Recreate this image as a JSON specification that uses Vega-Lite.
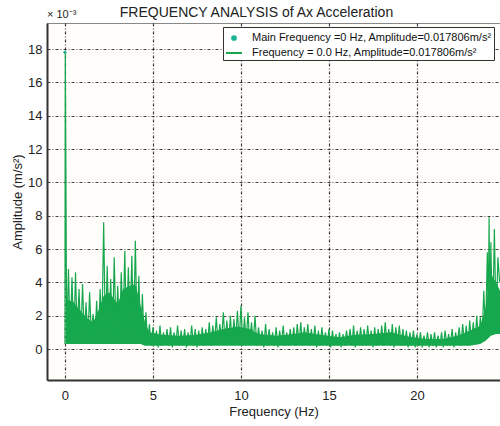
{
  "$schema": "https://vega.github.io/schema/vega-lite/v6.json",
  "width": 453,
  "height": 357,
  "autosize": {"type": "none"},
  "padding": {"left": 47, "top": 23, "right": 0, "bottom": 46},
  "background": "white",
  "config": {
    "font": "Liberation Sans",
    "view": {"fill": "#fffefa", "stroke": "#888", "strokeWidth": 1},
    "axis": {
      "grid": true,
      "gridColor": "#111",
      "gridDash": [3, 2, 1, 2],
      "gridWidth": 1.2,
      "gridOpacity": 0.8,
      "domainColor": "#333",
      "domainWidth": 2,
      "ticks": false,
      "labelFontSize": 13,
      "labelColor": "#222",
      "labelOverlap": false,
      "titleFontSize": 13,
      "titleFontWeight": "normal",
      "titleColor": "#222"
    }
  },
  "title": {
    "text": "FREQUENCY ANALYSIS of Ax Acceleration",
    "fontSize": 14,
    "fontWeight": "normal",
    "color": "#222",
    "dx": -17,
    "dy": 14,
    "offset": 3
  },
  "datasets": {
    "band": [
      {"f":0.05,"lo":0.3,"hi":3.0},{"f":0.5,"lo":0.3,"hi":2.8},{"f":0.8,"lo":0.3,"hi":2.4},{"f":1.2,"lo":0.3,"hi":1.9},{"f":1.6,"lo":0.3,"hi":1.6},{"f":1.9,"lo":0.3,"hi":2.3},
      {"f":2.2,"lo":0.3,"hi":3.2},{"f":2.5,"lo":0.3,"hi":3.4},{"f":2.8,"lo":0.3,"hi":3.0},{"f":3.0,"lo":0.3,"hi":2.7},{"f":3.3,"lo":0.3,"hi":3.6},{"f":3.7,"lo":0.3,"hi":3.8},
      {"f":4.0,"lo":0.3,"hi":3.9},{"f":4.3,"lo":0.3,"hi":2.6},{"f":4.55,"lo":0.2,"hi":1.6},{"f":4.8,"lo":0.2,"hi":1.0},{"f":5.5,"lo":0.2,"hi":0.85},{"f":6.5,"lo":0.2,"hi":0.8},
      {"f":7.5,"lo":0.2,"hi":0.85},{"f":8.3,"lo":0.2,"hi":1.0},{"f":9.0,"lo":0.2,"hi":1.2},{"f":9.8,"lo":0.2,"hi":1.35},{"f":10.5,"lo":0.2,"hi":1.2},{"f":11.0,"lo":0.2,"hi":0.9},
      {"f":12.0,"lo":0.2,"hi":0.8},{"f":13.0,"lo":0.2,"hi":0.9},{"f":13.6,"lo":0.2,"hi":1.0},{"f":14.5,"lo":0.2,"hi":0.85},{"f":15.6,"lo":0.2,"hi":0.7},{"f":16.5,"lo":0.2,"hi":0.85},
      {"f":17.5,"lo":0.2,"hi":0.9},{"f":18.5,"lo":0.2,"hi":1.0},{"f":19.5,"lo":0.2,"hi":0.75},{"f":20.5,"lo":0.2,"hi":0.6},{"f":21.5,"lo":0.2,"hi":0.6},{"f":22.3,"lo":0.2,"hi":0.8},
      {"f":23.0,"lo":0.2,"hi":1.1},{"f":23.6,"lo":0.3,"hi":1.4},{"f":23.9,"lo":0.5,"hi":2.5},{"f":24.2,"lo":0.8,"hi":4.5},{"f":24.5,"lo":0.9,"hi":4.0},{"f":24.72,"lo":0.9,"hi":3.5}
    ],
    "spec": [
      {"f":0.0,"a":0.3},{"f":0.02,"a":17.8},{"f":0.1,"a":0.4},{"f":0.2,"a":4.8},{"f":0.3,"a":0.6},{"f":0.4,"a":4.3},{"f":0.5,"a":0.3},{"f":0.6,"a":4.6},{"f":0.7,"a":0.8},{"f":0.8,"a":3.6},{"f":0.9,"a":0.5},
      {"f":1.0,"a":3.9},{"f":1.1,"a":0.7},{"f":1.2,"a":2.8},{"f":1.3,"a":0.3},{"f":1.4,"a":3.4},{"f":1.5,"a":0.9},{"f":1.6,"a":2.1},{"f":1.7,"a":0.4},{"f":1.8,"a":2.9},{"f":1.9,"a":0.6},
      {"f":2.0,"a":3.6},{"f":2.1,"a":1.0},{"f":2.2,"a":7.6},{"f":2.3,"a":0.5},{"f":2.4,"a":5.0},{"f":2.5,"a":1.2},{"f":2.6,"a":4.2},{"f":2.7,"a":0.4},{"f":2.8,"a":5.5},{"f":2.9,"a":0.9},
      {"f":3.0,"a":3.8},{"f":3.1,"a":0.6},{"f":3.2,"a":4.6},{"f":3.3,"a":1.1},{"f":3.4,"a":5.9},{"f":3.5,"a":0.5},{"f":3.6,"a":4.9},{"f":3.7,"a":1.3},{"f":3.8,"a":5.6},{"f":3.9,"a":0.7},
      {"f":4.0,"a":6.5},{"f":4.1,"a":0.9},{"f":4.2,"a":4.4},{"f":4.3,"a":0.5},{"f":4.4,"a":3.3},{"f":4.5,"a":0.4},{"f":4.6,"a":2.2},{"f":4.7,"a":0.3},{"f":4.8,"a":1.5},{"f":4.9,"a":0.2},
      {"f":5.0,"a":1.3},{"f":5.1,"a":0.3},{"f":5.2,"a":1.1},{"f":5.3,"a":0.1},{"f":5.4,"a":1.4},{"f":5.5,"a":0.2},{"f":5.6,"a":1.0},{"f":5.7,"a":0.3},{"f":5.8,"a":1.2},{"f":5.9,"a":0.2},
      {"f":6.0,"a":1.3},{"f":6.1,"a":0.1},{"f":6.2,"a":1.0},{"f":6.3,"a":0.3},{"f":6.4,"a":1.4},{"f":6.5,"a":0.2},{"f":6.6,"a":1.1},{"f":6.7,"a":0.2},{"f":6.8,"a":1.2},{"f":6.9,"a":0.1},
      {"f":7.0,"a":1.0},{"f":7.1,"a":0.3},{"f":7.2,"a":1.4},{"f":7.3,"a":0.2},{"f":7.4,"a":1.2},{"f":7.5,"a":0.1},{"f":7.6,"a":1.1},{"f":7.7,"a":0.3},{"f":7.8,"a":1.3},{"f":7.9,"a":0.2},
      {"f":8.0,"a":1.2},{"f":8.1,"a":0.3},{"f":8.2,"a":1.6},{"f":8.3,"a":0.2},{"f":8.4,"a":1.4},{"f":8.5,"a":0.4},{"f":8.6,"a":1.9},{"f":8.7,"a":0.3},{"f":8.8,"a":1.5},{"f":8.9,"a":0.5},
      {"f":9.0,"a":2.2},{"f":9.1,"a":0.3},{"f":9.2,"a":1.7},{"f":9.3,"a":0.4},{"f":9.4,"a":2.0},{"f":9.5,"a":0.3},{"f":9.6,"a":1.8},{"f":9.7,"a":0.5},{"f":9.8,"a":2.3},{"f":9.9,"a":0.4},
      {"f":10.0,"a":2.6},{"f":10.1,"a":0.3},{"f":10.2,"a":1.9},{"f":10.3,"a":0.5},{"f":10.4,"a":2.2},{"f":10.5,"a":0.3},{"f":10.6,"a":1.6},{"f":10.7,"a":0.4},{"f":10.8,"a":2.0},{"f":10.9,"a":0.2},
      {"f":11.0,"a":1.3},{"f":11.1,"a":0.3},{"f":11.2,"a":1.1},{"f":11.3,"a":0.1},{"f":11.4,"a":1.5},{"f":11.5,"a":0.2},{"f":11.6,"a":1.2},{"f":11.7,"a":0.3},{"f":11.8,"a":1.0},{"f":11.9,"a":0.2},
      {"f":12.0,"a":1.3},{"f":12.1,"a":0.1},{"f":12.2,"a":1.1},{"f":12.3,"a":0.3},{"f":12.4,"a":1.4},{"f":12.5,"a":0.2},{"f":12.6,"a":1.0},{"f":12.7,"a":0.2},{"f":12.8,"a":1.2},{"f":12.9,"a":0.3},
      {"f":13.0,"a":1.3},{"f":13.1,"a":0.2},{"f":13.2,"a":1.5},{"f":13.3,"a":0.3},{"f":13.4,"a":1.6},{"f":13.5,"a":0.2},{"f":13.6,"a":1.3},{"f":13.7,"a":0.4},{"f":13.8,"a":1.5},{"f":13.9,"a":0.2},
      {"f":14.0,"a":1.2},{"f":14.1,"a":0.3},{"f":14.2,"a":1.4},{"f":14.3,"a":0.1},{"f":14.4,"a":1.1},{"f":14.5,"a":0.2},{"f":14.6,"a":1.3},{"f":14.7,"a":0.3},{"f":14.8,"a":1.0},{"f":14.9,"a":0.2},
      {"f":15.0,"a":1.2},{"f":15.1,"a":0.1},{"f":15.2,"a":1.1},{"f":15.3,"a":0.2},{"f":15.4,"a":0.9},{"f":15.5,"a":0.2},{"f":15.6,"a":1.0},{"f":15.7,"a":0.1},{"f":15.8,"a":0.9},{"f":15.9,"a":0.2},
      {"f":16.0,"a":1.1},{"f":16.1,"a":0.3},{"f":16.2,"a":1.2},{"f":16.3,"a":0.2},{"f":16.4,"a":1.4},{"f":16.5,"a":0.1},{"f":16.6,"a":1.1},{"f":16.7,"a":0.3},{"f":16.8,"a":1.3},{"f":16.9,"a":0.2},
      {"f":17.0,"a":1.2},{"f":17.1,"a":0.2},{"f":17.2,"a":1.4},{"f":17.3,"a":0.3},{"f":17.4,"a":1.1},{"f":17.5,"a":0.1},{"f":17.6,"a":1.3},{"f":17.7,"a":0.2},{"f":17.8,"a":1.2},{"f":17.9,"a":0.3},
      {"f":18.0,"a":1.4},{"f":18.1,"a":0.2},{"f":18.2,"a":1.6},{"f":18.3,"a":0.3},{"f":18.4,"a":1.2},{"f":18.5,"a":0.2},{"f":18.6,"a":1.5},{"f":18.7,"a":0.1},{"f":18.8,"a":1.3},{"f":18.9,"a":0.3},
      {"f":19.0,"a":1.4},{"f":19.1,"a":0.2},{"f":19.2,"a":1.2},{"f":19.3,"a":0.2},{"f":19.4,"a":1.1},{"f":19.5,"a":0.1},{"f":19.6,"a":1.0},{"f":19.7,"a":0.2},{"f":19.8,"a":1.1},{"f":19.9,"a":0.1},
      {"f":20.0,"a":0.9},{"f":20.1,"a":0.2},{"f":20.2,"a":1.0},{"f":20.3,"a":0.1},{"f":20.4,"a":0.8},{"f":20.5,"a":0.2},{"f":20.6,"a":1.0},{"f":20.7,"a":0.1},{"f":20.8,"a":0.9},{"f":20.9,"a":0.2},
      {"f":21.0,"a":1.0},{"f":21.1,"a":0.1},{"f":21.2,"a":0.8},{"f":21.3,"a":0.2},{"f":21.4,"a":1.0},{"f":21.5,"a":0.1},{"f":21.6,"a":1.1},{"f":21.7,"a":0.2},{"f":21.8,"a":0.9},{"f":21.9,"a":0.2},
      {"f":22.0,"a":1.2},{"f":22.1,"a":0.1},{"f":22.2,"a":1.0},{"f":22.3,"a":0.3},{"f":22.4,"a":1.3},{"f":22.5,"a":0.2},{"f":22.6,"a":1.5},{"f":22.7,"a":0.3},{"f":22.8,"a":1.4},{"f":22.9,"a":0.2},
      {"f":23.0,"a":1.7},{"f":23.1,"a":0.3},{"f":23.2,"a":1.6},{"f":23.3,"a":0.4},{"f":23.4,"a":2.0},{"f":23.5,"a":0.3},{"f":23.6,"a":1.9},{"f":23.7,"a":0.6},{"f":23.8,"a":3.5},{"f":23.9,"a":0.8},
      {"f":24.0,"a":5.8},{"f":24.05,"a":1.5},{"f":24.1,"a":7.9},{"f":24.15,"a":1.2},{"f":24.2,"a":6.4},{"f":24.3,"a":1.0},{"f":24.4,"a":7.2},{"f":24.5,"a":1.4},{"f":24.6,"a":5.5},{"f":24.7,"a":4.0}
    ],
    "main": [{"f": 0.0, "a": 17.806}],
    "note": [{"label": "× 10⁻³"}]
  },
  "layer": [
    {
      "data": {"name": "band"},
      "mark": {"type": "area", "color": "#17a84e", "opacity": 1, "clip": true},
      "encoding": {
        "x": {
          "field": "f",
          "type": "quantitative",
          "scale": {"domain": [-1.02, 24.72], "nice": false, "zero": false},
          "axis": {"title": "Frequency (Hz)", "values": [0, 5, 10, 15, 20], "labelPadding": 9, "titlePadding": 3}
        },
        "y": {
          "field": "hi",
          "type": "quantitative",
          "scale": {"domain": [-1.86, 19.56], "nice": false, "zero": false},
          "axis": {"title": "Amplitude (m/s²)", "values": [0, 2, 4, 6, 8, 10, 12, 14, 16, 18], "labelPadding": 5, "titlePadding": 3}
        },
        "y2": {"field": "lo"}
      }
    },
    {
      "data": {"name": "spec"},
      "mark": {"type": "line", "strokeWidth": 1.2, "clip": true},
      "encoding": {
        "x": {
          "field": "f",
          "type": "quantitative",
          "scale": {"domain": [-1.02, 24.72], "nice": false, "zero": false},
          "axis": {"title": "Frequency (Hz)", "values": [0, 5, 10, 15, 20], "labelPadding": 9, "titlePadding": 3}
        },
        "y": {
          "field": "a",
          "type": "quantitative",
          "scale": {"domain": [-1.86, 19.56], "nice": false, "zero": false},
          "axis": {"title": "Amplitude (m/s²)", "values": [0, 2, 4, 6, 8, 10, 12, 14, 16, 18], "labelPadding": 5, "titlePadding": 3}
        },
        "color": {
          "datum": "Frequency = 0.0 Hz, Amplitude=0.017806m/s²",
          "type": "nominal",
          "scale": {
            "domain": ["Main Frequency =0 Hz, Amplitude=0.017806m/s²", "Frequency = 0.0 Hz, Amplitude=0.017806m/s²"],
            "range": ["#1ab394", "#17a84e"]
          },
          "legend": {
            "orient": "none",
            "legendX": 176,
            "legendY": 4,
            "title": null,
            "labelFontSize": 11,
            "labelLimit": 400,
            "labelColor": "#111",
            "labelOffset": 9,
            "fillColor": "white",
            "strokeColor": "#333",
            "padding": 2,
            "rowPadding": 0,
            "symbolSize": 100,
            "encode": {
              "symbols": {
                "update": {
                  "shape": {"signal": "datum.index === 0 ? 'circle' : 'stroke'"},
                  "size": {"signal": "datum.index === 0 ? 14 : 256"},
                  "fill": {"signal": "datum.index === 0 ? '#1ab394' : 'transparent'"},
                  "stroke": {"signal": "datum.index === 0 ? '#1ab394' : '#3cb96a'"},
                  "strokeWidth": {"value": 2}
                }
              }
            }
          }
        }
      }
    },
    {
      "data": {"name": "main"},
      "mark": {"type": "point", "filled": true, "size": 10, "opacity": 1},
      "encoding": {
        "x": {"field": "f", "type": "quantitative", "axis": {"title": "Frequency (Hz)", "values": [0, 5, 10, 15, 20], "labelPadding": 9, "titlePadding": 3}},
        "y": {"field": "a", "type": "quantitative", "axis": {"title": "Amplitude (m/s²)", "values": [0, 2, 4, 6, 8, 10, 12, 14, 16, 18], "labelPadding": 5, "titlePadding": 3}},
        "color": {"datum": "Main Frequency =0 Hz, Amplitude=0.017806m/s²", "type": "nominal"}
      }
    },
    {
      "data": {"name": "note"},
      "mark": {"type": "text", "align": "left", "baseline": "alphabetic", "dy": -5, "fontSize": 11, "color": "#222"},
      "encoding": {
        "x": {"datum": -1.02, "type": "quantitative", "axis": {"title": "Frequency (Hz)", "values": [0, 5, 10, 15, 20], "labelPadding": 9, "titlePadding": 3}},
        "y": {"datum": 19.56, "type": "quantitative", "axis": {"title": "Amplitude (m/s²)", "values": [0, 2, 4, 6, 8, 10, 12, 14, 16, 18], "labelPadding": 5, "titlePadding": 3}},
        "text": {"field": "label"}
      }
    }
  ]
}
